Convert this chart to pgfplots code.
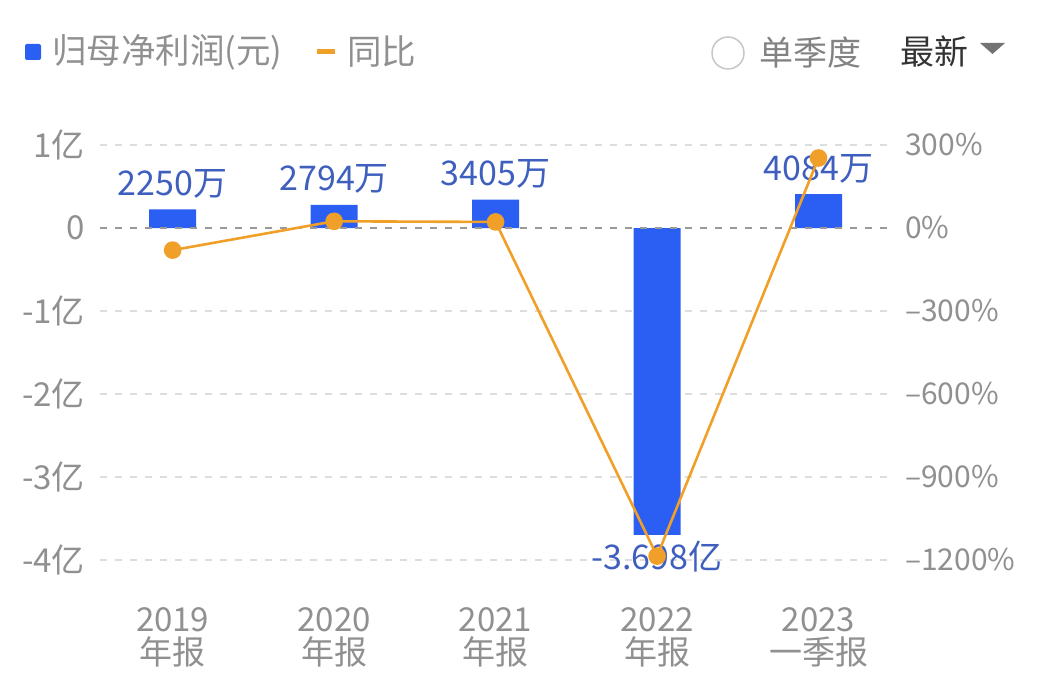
\documentclass[border=0pt]{standalone}
\usepackage{pgfplots}
\pgfplotsset{compat=1.18}
\usepackage{fontspec}
\setmainfont{Noto Sans CJK SC}
\definecolor{barblue}{HTML}{2B5EF2}
\definecolor{lblblue}{HTML}{3F5FBF}
\definecolor{lineor}{HTML}{F0A028}
\definecolor{tickgray}{HTML}{909090}
\definecolor{gridgray}{HTML}{DDDDDD}
\definecolor{zerogray}{HTML}{999999}
\begin{document}
\begin{tikzpicture}
\useasboundingbox (0pt,0pt) rectangle (1058pt,689pt);
% top legend
\fill[barblue, rounded corners=2pt] (25pt,629pt) rectangle (41pt,645pt);
\node[anchor=west, inner sep=0pt, tickgray, font=\fontsize{34.5}{38}\selectfont] at (52pt,637pt) {归母净利润(元)};
\draw[lineor, line width=5pt] (317pt,637pt) -- (335pt,637pt);
\node[anchor=west, inner sep=0pt, tickgray, font=\fontsize{34.5}{38}\selectfont] at (347pt,637pt) {同比};
\draw[gridgray!90!black, line width=1.5pt] (728pt,636pt) circle (16pt);
\node[anchor=west, inner sep=0pt, tickgray!90!black, font=\fontsize{34}{38}\selectfont] at (759pt,637pt) {单季度};
\node[anchor=west, inner sep=0pt, black!80, font=\fontsize{34}{38}\selectfont] at (900pt,637pt) {最新};
\fill[black!55] (980pt,646pt) -- (1005pt,646pt) -- (992.5pt,635pt) -- cycle;
% bars axis
\begin{axis}[
  at={(100pt,129pt)}, anchor=south west,
  scale only axis, width=788pt, height=415pt,
  xmin=-0.45, xmax=4.43, ymin=-4, ymax=1,
  axis line style={draw=none}, major tick length=0pt,
  ytick={-4,-3,-2,-1,0,1},
  yticklabels={-4亿,-3亿,-2亿,-1亿,0,1亿},
  ymajorgrids, grid style={gridgray, line width=1.5pt, dash pattern=on 7pt off 8pt},
  yticklabel style={anchor=east, inner sep=0pt, xshift=-15pt, tickgray, font=\fontsize{33}{36}\selectfont},
  xtick={0,1,2,3,4},
  xticklabels={{2019\\年报},{2020\\年报},{2021\\年报},{2022\\年报},{2023\\一季报}},
  xticklabel style={align=center, anchor=north, inner sep=0pt, yshift=-47pt, tickgray, font=\fontsize{33}{33}\selectfont},
  clip=false,
]
\addplot[ybar, bar width=47pt, fill=barblue, draw=none] coordinates {(0,0.225) (1,0.2794) (2,0.3405) (3,-3.698) (4,0.4084)};
\draw[zerogray, line width=1.8pt, dash pattern=on 7pt off 8pt] (axis cs:-0.45,0) -- (axis cs:4.43,0);
\begin{scope}[every node/.style={lblblue, font=\fontsize{34}{36}\selectfont, inner sep=0pt}]
\node[anchor=south] at (axis cs:0,0.225) [yshift=11pt] {2250万};
\node[anchor=south] at (axis cs:1,0.2794) [yshift=11pt] {2794万};
\node[anchor=south] at (axis cs:2,0.3405) [yshift=11pt] {3405万};
\node[anchor=south] at (axis cs:4,0.4084) [yshift=11pt] {4084万};
\node[anchor=north] at (axis cs:3,-3.698) [yshift=-6pt] {-3.698亿};
\end{scope}
\end{axis}
% line axis
\begin{axis}[
  at={(100pt,129pt)}, anchor=south west,
  scale only axis, width=788pt, height=415pt,
  xmin=-0.45, xmax=4.43, ymin=-1200, ymax=300,
  axis line style={draw=none}, major tick length=0pt,
  yticklabel pos=right, xtick=\empty,
  ytick={-1200,-900,-600,-300,0,300},
  yticklabels={–1200\%,–900\%,–600\%,–300\%,0\%,300\%},
  yticklabel style={anchor=west, inner sep=0pt, xshift=17pt, tickgray, font=\fontsize{30}{34}\selectfont},
  clip=false,
]
\addplot[lineor, line width=2.6pt, mark=*, mark size=7.5pt, mark options={fill=lineor, draw=none}] coordinates {(0,-80) (1,24.2) (2,21.9) (3,-1186) (4,253)};
\end{axis}
\end{tikzpicture}
\end{document}
